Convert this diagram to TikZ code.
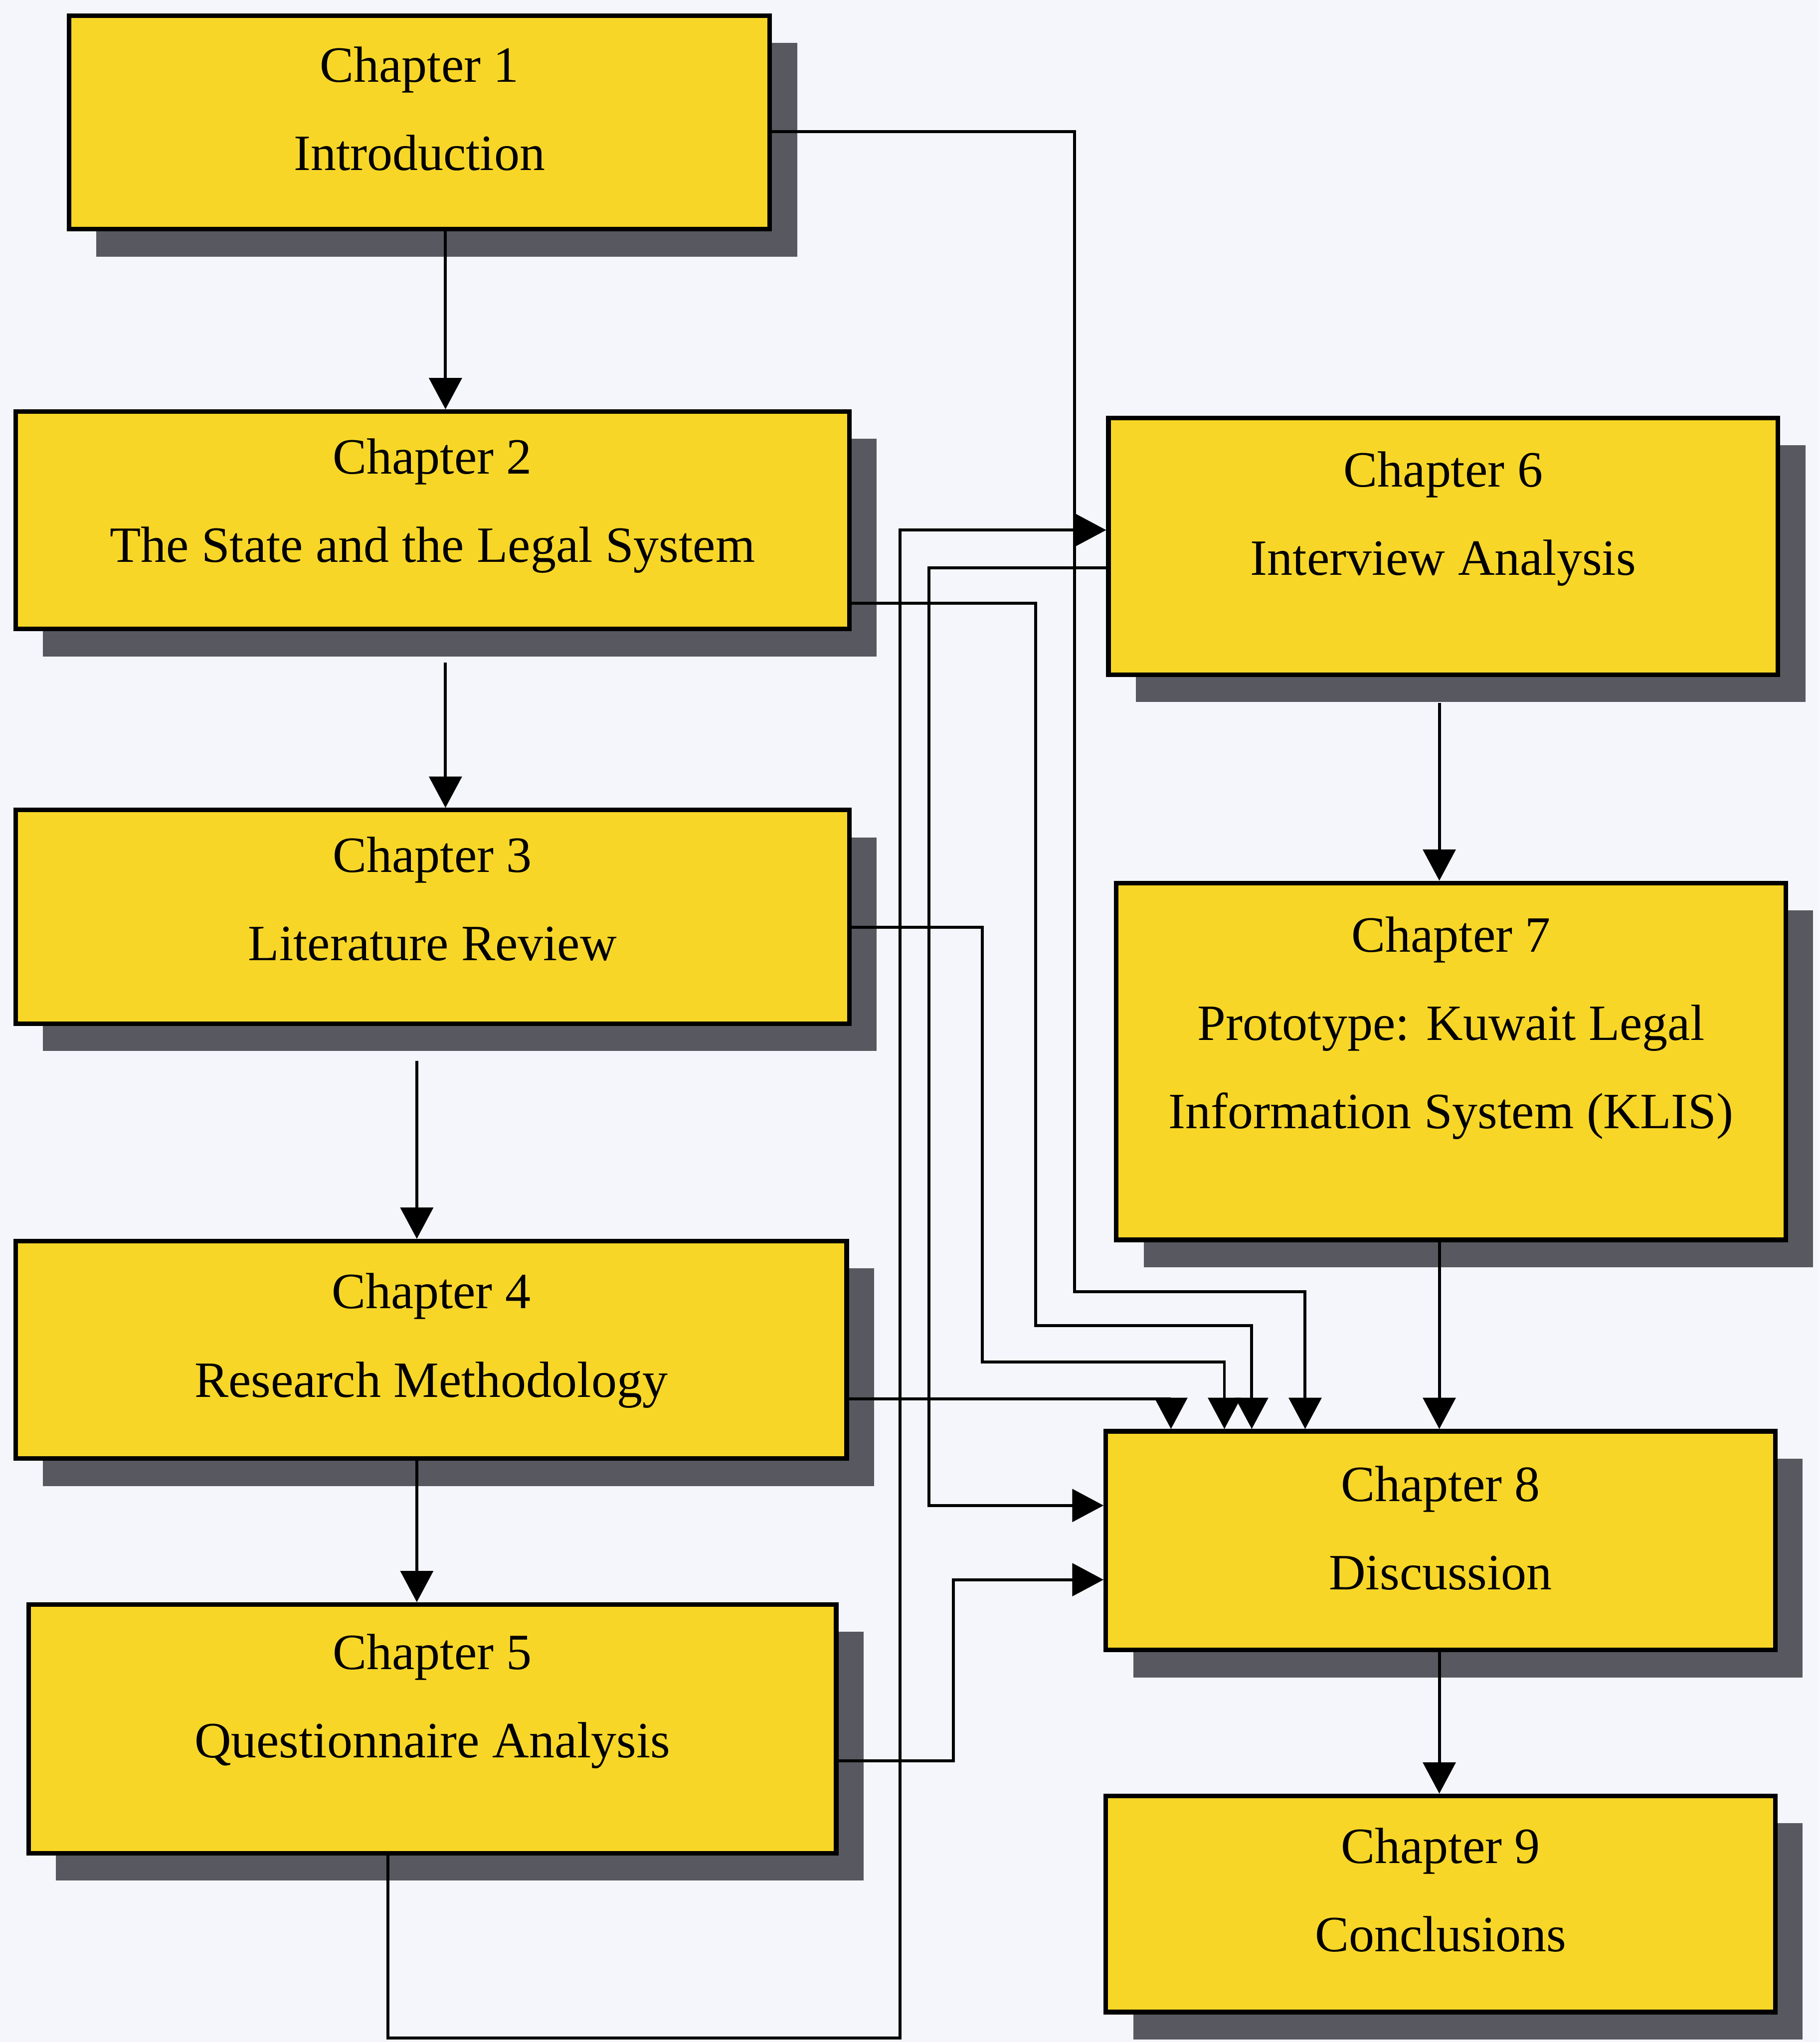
\documentclass[tikz,border=0pt]{standalone}
\usepackage{fontspec}
\setmainfont{Liberation Serif}
\usetikzlibrary{arrows.meta,fit,shadows}
\definecolor{chapfill}{RGB}{247,214,40}
\definecolor{shadowgrey}{RGB}{88,88,96}
\definecolor{paper}{RGB}{244,246,251}
\begin{document}
\begin{tikzpicture}[x=0.01cm,y=-0.01cm,
  chbox/.style={draw=black, line width=1pt, fill=chapfill, inner sep=0pt, rectangle,
    drop shadow={shadow xshift=0.21cm, shadow yshift=-0.21cm, fill=shadowgrey, opacity=1}},
  lbl/.style={align=center, anchor=north, inner sep=0pt,
    font=\fontsize{11.1}{19.3}\selectfont},
  link/.style={line width=0.65pt, draw=black},
  arr/.style={link, -{Triangle[length=0.24cm,width=0.25cm]}}]

% page
\useasboundingbox (0,0) rectangle (1397,1568);
\fill[paper] (0,0) rectangle (1397,1568);

% chapter boxes
\node[chbox, fit={(53,12) (591,176)}]     (c1) {};
\node[chbox, fit={(12,316) (652,483)}]    (c2) {};
\node[chbox, fit={(12,622) (652,786)}]    (c3) {};
\node[chbox, fit={(12,953) (650,1120)}]   (c4) {};
\node[chbox, fit={(22,1232) (642,1423)}]  (c5) {};
\node[chbox, fit={(851,321) (1365,518)}]  (c6) {};
\node[chbox, fit={(857,678) (1371,952)}]  (c7) {};
\node[chbox, fit={(849,1099) (1363,1267)}] (c8) {};
\node[chbox, fit={(849,1379) (1363,1545)}] (c9) {};

% chapter titles
\node[lbl] (t1) at (322,35)   {Chapter 1\\Introduction};
\node[lbl] (t2) at (332,336)  {Chapter 2\\The State and the Legal System};
\node[lbl] (t3) at (332,642)  {Chapter 3\\Literature Review};
\node[lbl] (t4) at (331,977)  {Chapter 4\\Research Methodology};
\node[lbl] (t5) at (332,1254) {Chapter 5\\Questionnaire Analysis};
\node[lbl] (t6) at (1108,346) {Chapter 6\\Interview Analysis};
\node[lbl] (t7) at (1114,703) {Chapter 7\\Prototype: Kuwait Legal\\Information System (KLIS)};
\node[lbl] (t8) at (1106,1125) {Chapter 8\\Discussion};
\node[lbl] (t9) at (1106,1403) {Chapter 9\\Conclusions};

% routing points
\coordinate (colA) at (342,0);
\coordinate (colB) at (320,0);
\coordinate (colC) at (1105,0);
\coordinate (b1a) at (825,101);
\coordinate (b1b) at (1002,992);
\coordinate (b2a) at (795,463);
\coordinate (b2b) at (961,1018);
\coordinate (b3a) at (754,712);
\coordinate (b3b) at (940,1046);
\coordinate (b4)  at (899,1074);
\coordinate (b5a) at (732,1352);
\coordinate (b5b) at (0,1213);
\coordinate (b6a) at (713,436);
\coordinate (b6b) at (0,1156);
\coordinate (b7a) at (298,1565);
\coordinate (b7b) at (691,407);

% main sequence
\draw[arr] (c1.south -| colA) -- (c2.north -| colA);
\draw[arr, shorten <=0.24cm] (c2.south -| colA) -- (c3.north -| colA);
\draw[arr, shorten <=0.27cm] (c3.south -| colB) -- (c4.north -| colB);
\draw[arr] (c4.south -| colB) -- (c5.north -| colB);
\draw[arr, shorten <=0.20cm] (c6.south -| colC) -- (c7.north -| colC);
\draw[arr] (c7.south -| colC) -- (c8.north -| colC);
\draw[arr] (c8.south -| colC) -- (c9.north -| colC);

% links into Chapter 8
\draw[arr] (c1.east |- b1a) -- (b1a) |- (b1b) -- (c8.north -| b1b);
\draw[arr] (c2.east |- b2a) -- (b2a) |- (b2b) -- (c8.north -| b2b);
\draw[arr] (c3.east |- b3a) -- (b3a) |- (b3b) -- (c8.north -| b3b);
\draw[arr] (c4.east |- b4) -| (c8.north -| b4);
\draw[arr] (c5.east |- b5a) -- (b5a) |- (c8.west |- b5b);
\draw[arr] (c6.west |- b6a) -- (b6a) |- (c8.west |- b6b);

% Chapter 5 to Chapter 6
\draw[arr] (c5.south -| b7a) -- (b7a) -| (b7b) -- (c6.west |- b7b);

\end{tikzpicture}
\end{document}
